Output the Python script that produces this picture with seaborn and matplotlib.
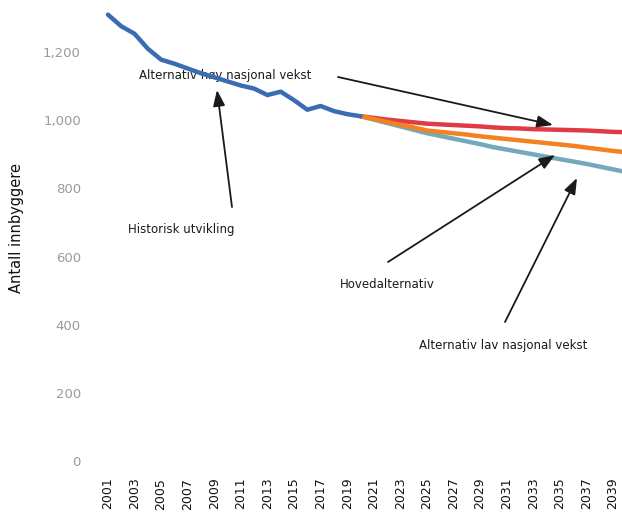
import matplotlib
matplotlib.use("Agg")
import matplotlib.pyplot as plt
import matplotlib.ticker as mticker
import numpy as np
import pandas as pd
import seaborn as sns

# ---- data ----
hist_years = list(range(2001, 2021))
hist_values = [1310, 1276, 1254, 1210, 1178, 1166, 1152, 1138, 1126, 1114,
               1102, 1093, 1074, 1084, 1059, 1031, 1042, 1027, 1018, 1012]

proj_years = list(range(2020, 2041))
high_values = [1012, 1007, 1002, 998, 994, 990, 988, 986, 984, 982, 979,
               977, 976, 974, 973, 972, 971, 970, 968, 966, 965]
main_values = [1012, 1004, 995, 987, 979, 970, 966, 962, 958, 953, 949,
               945, 941, 937, 933, 929, 925, 920, 915, 910, 906]
low_values = [1012, 1002, 992, 982, 972, 962, 954, 946, 938, 930, 921,
              914, 907, 900, 893, 886, 879, 872, 864, 856, 848]

series_names = ["Historisk utvikling", "Alternativ høy nasjonal vekst",
                "Hovedalternativ", "Alternativ lav nasjonal vekst"]
series_colors = ["#3a6cb3", "#e03a45", "#f2811f", "#72aabb"]

x_tick_labels = list(range(2001, 2040, 2))
y_ticks = [0, 200, 400, 600, 800, 1000, 1200]

frames = [pd.DataFrame({"year": hist_years, "value": hist_values, "series": series_names[0]}),
          pd.DataFrame({"year": proj_years, "value": high_values, "series": series_names[1]}),
          pd.DataFrame({"year": proj_years, "value": main_values, "series": series_names[2]}),
          pd.DataFrame({"year": proj_years, "value": low_values, "series": series_names[3]})]
df = pd.concat(frames, ignore_index=True)

sns.set_theme(style="white")
plt.rcParams['font.family'] = ['DejaVu Sans']

W, H = 622, 517
fig = plt.figure(figsize=(W / 100, H / 100), dpi=100)
ax_left, ax_right, ax_top, ax_bottom = 92, 622, 0, 461
ax = fig.add_axes([ax_left / W, (H - ax_bottom) / H, (ax_right - ax_left) / W, (ax_bottom - ax_top) / H])

# draw projections first, then history on top
order = [series_names[3], series_names[1], series_names[2], series_names[0]]
palette = dict(zip(series_names, series_colors))
for name in order:
    sub = df[df["series"] == name]
    sns.lineplot(data=sub, x="year", y="value", color=palette[name], lw=3.2,
                 ax=ax, legend=False, solid_capstyle="round", solid_joinstyle="round")

ax.set_xlim(1999.8, 2039.68)
ax.set_ylim(0, 1353)
for s in ax.spines.values():
    s.set_visible(False)
ax.set_xticks(x_tick_labels)
ax.set_xticklabels([str(v) for v in x_tick_labels], rotation=90, fontsize=9, color="#111111")
ax.set_yticks(y_ticks)
ax.yaxis.set_major_formatter(mticker.FuncFormatter(lambda v, p: f"{int(v):,}"))
ax.tick_params(axis="y", labelsize=9.5, colors="#9a9a9a", length=0, pad=8)
ax.tick_params(axis="x", length=0, pad=12)
ax.set_xlabel("")
ax.set_ylabel("")
ax.grid(False)

fig.text(17 / W, 1 - 228 / H, "Antall innbyggere", rotation=90, ha="center", va="center",
         fontsize=10.5, color="#111111")

def px2data(px, py):
    inv = ax.transData.inverted()
    disp = (px, H - py)
    return inv.transform(disp)

fig.canvas.draw()
ann = [
    (series_names[1], (225, 76), (338, 77), (553, 125)),
    (series_names[0], (181, 229), (232, 207), (217, 90)),
    (series_names[2], (387, 285), (388, 262), (555, 155)),
    (series_names[3], (503, 345), (505, 322), (577, 178)),
]
for text, tpos, tail, head in ann:
    ax.text(*px2data(*tpos), text, ha="center", va="center", fontsize=8.5, color="#1a1a1a",
            zorder=1)
    ax.annotate("", xy=px2data(*head), xytext=px2data(*tail),
                arrowprops=dict(arrowstyle="-|>,head_length=0.8,head_width=0.3", color="#1a1a1a",
                                lw=1.3, shrinkA=0, shrinkB=0), zorder=6)

fig.savefig("out.png", dpi=100)
